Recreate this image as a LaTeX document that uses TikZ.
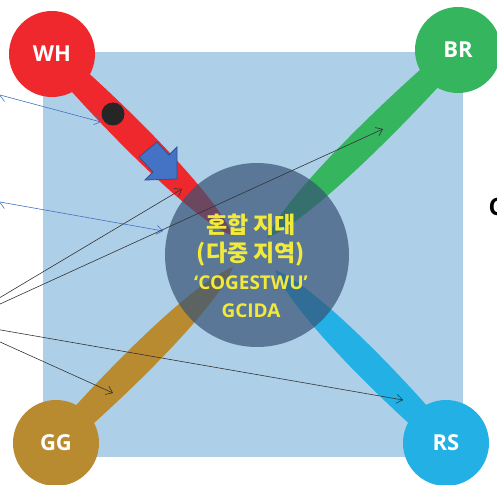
\documentclass[tikz,border=0pt]{standalone}
\usepackage{fontspec}
\setmainfont{Open Sans}
\newfontfamily\krfont{Noto Sans CJK KR}
\usepackage{tikz}
\usetikzlibrary{calc,arrows.meta}
\definecolor{bgblue}{HTML}{AECFE8}
\definecolor{whred}{HTML}{EE282D}
\definecolor{brgreen}{HTML}{34B55E}
\definecolor{gggold}{HTML}{B98B30}
\definecolor{rscyan}{HTML}{22B0E5}
\definecolor{zonefill}{HTML}{375376}
\definecolor{zonetext}{HTML}{F2EA3B}
\definecolor{linkblue}{HTML}{4472C4}
\definecolor{blockedge}{HTML}{2F528F}
\tikzstyle{hub}=[circle,minimum size=86pt,inner sep=0pt,text=white,
font=\bfseries\fontsize{22}{26}\selectfont]
\tikzstyle{zone}=[circle,fill=zonefill,fill opacity=0.7,minimum size=184pt,inner sep=0pt]
\tikzstyle{tag}=[text=zonetext,align=center,font=\bfseries\fontsize{20}{28}\selectfont]
\tikzstyle{pointer}=[->,line width=0.6pt,draw=black!80]
\tikzstyle{bluepointer}=[->,line width=0.6pt,draw=linkblue]
% band: colour, hub, tip, bulge left, bulge right
\newcommand{\band}[5]{%
  \fill[#1] ($(#2)!10pt!90:(#3)$)
    .. controls ($($(#2)!0.35!(#3)$)!#4!90:(#3)$) and ($($(#2)!0.85!(#3)$)!#4!90:(#3)$) .. (#3)
    .. controls ($($(#2)!0.85!(#3)$)!#5!-90:(#3)$) and ($($(#2)!0.35!(#3)$)!#5!-90:(#3)$) .. ($(#2)!10pt!-90:(#3)$)
    -- cycle;}

\begin{document}
\begin{tikzpicture}[x=1pt,y=-1pt,>={Straight Barb[length=6pt,width=9pt]}]
            \useasboundingbox (0,0) rectangle (497,484);
            \fill[bgblue] (43,52) rectangle (463,457);

            % BAND PART

            \coordinate (cwh) at (52,54);
            \coordinate (cbr) at (458,50);
            \coordinate (cgg) at (56,443);
            \coordinate (crs) at (446,443);
            \coordinate (twh) at (233,236);
            \coordinate (tbr) at (267,238);
            \coordinate (tgg) at (233,267);
            \coordinate (trs) at (275,270);

            \band{whred}{cwh}{twh}{17pt}{17pt}
            \band{brgreen}{cbr}{tbr}{17pt}{17pt}
            \band{gggold}{cgg}{tgg}{17pt}{17pt}
            \band{rscyan}{crs}{trs}{17pt}{17pt}

            % HUB PART

            \node[hub,fill=whred] (wh) at (cwh) {WH};
            \node[hub,fill=brgreen] (br) at (cbr) {BR};
            \node[hub,fill=gggold] (gg) at (cgg) {GG};
            \node[hub,fill=rscyan] (rs) at (crs) {RS};

            % MIXED ZONE PART

            \node[zone] (mix) at (257,255) {};
            \node[tag] (mixlabel) at (251,266) {%
              {\krfont\fontsize{23}{28}\selectfont 혼합 지대}\\
              {\krfont\fontsize{23}{28}\selectfont (다중 지역)}\\
              {\fontsize{19}{28}\selectfont ‘COGESTWU’}\\
              {\fontsize{19}{28}\selectfont GCIDA}};

            \node[circle,fill=black!85,minimum size=23pt,inner sep=0pt] (dot) at (113,114) {};
            \filldraw[fill=linkblue,draw=blockedge,line width=0.8pt]
              (157,142) -- (169,155) -- (177,147) -- (177,179) -- (145,180) -- (153,172) -- (139,157) -- cycle;

            % POINTER PART

            \coordinate (s1) at (0,95);
            \coordinate (s2) at (0,202);
            \coordinate (s3) at (-5,300.5);
            \coordinate (s4) at (-5,306.3);
            \coordinate (s5) at (-5,329);
            \coordinate (s6) at (-5,339.7);
            \coordinate (e1) at (101,122);
            \coordinate (e2) at (163,231);
            \coordinate (e3) at (182,189);
            \coordinate (e4) at (383,129);
            \coordinate (e5) at (403,400);
            \coordinate (e6) at (113,393);

            \path[bluepointer] (s1) edge (e1);
            \path[bluepointer] (s2) edge (e2);
            \path[pointer] (s3) edge (e3);
            \path[pointer] (s4) edge (e4);
            \path[pointer] (s5) edge (e5);
            \path[pointer] (s6) edge (e6);

            \node[anchor=west,font=\bfseries\fontsize{24}{28}\selectfont] (cut) at (485,207) {C};

        \end{tikzpicture}
\end{document}
